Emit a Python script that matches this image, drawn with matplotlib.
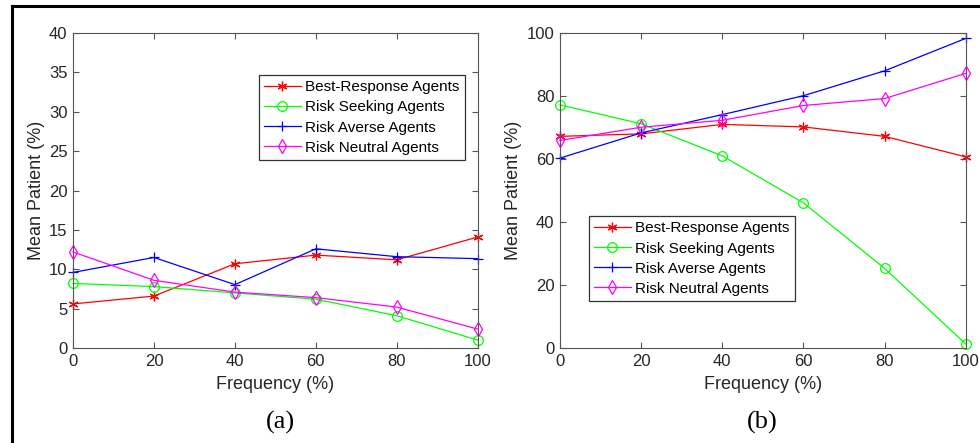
import matplotlib.pyplot as plt
from matplotlib.lines import Line2D

plt.rcParams['font.family'] = ['Liberation Sans', 'DejaVu Sans']

freq = [0, 20, 40, 60, 80, 100]

# (a) mean patient values
best_a = [5.6, 6.6, 10.7, 11.8, 11.2, 14.1]
seek_a = [8.2, 7.8, 7.0, 6.2, 4.1, 1.0]
averse_a = [9.6, 11.5, 8.05, 12.6, 11.6, 11.35]
neutral_a = [12.2, 8.6, 7.1, 6.4, 5.2, 2.4]

# (b) mean patient values
best_b = [67.2, 68.0, 71.0, 70.2, 67.2, 60.7]
seek_b = [77.2, 71.2, 61.0, 46.1, 25.3, 1.3]
averse_b = [60.3, 68.3, 74.1, 80.1, 88.0, 98.3]
neutral_b = [65.9, 70.1, 72.3, 77.0, 79.2, 87.2]

series_names = ['Best-Response Agents', 'Risk Seeking Agents',
                'Risk Averse Agents', 'Risk Neutral Agents']
colors = ['#ff0000', '#00ff00', '#0000ff', '#ff00ff']
markers = [(6, 2, 0), 'o', '+', 'd']
yticks_a = [0, 5, 10, 15, 20, 25, 30, 35, 40]
yticks_b = [0, 20, 40, 60, 80, 100]

fig = plt.figure(figsize=(9.8, 4.43), dpi=100)
ax_a = fig.add_axes([0.0745, 0.2144, 0.413, 0.711])
ax_b = fig.add_axes([0.5714, 0.2144, 0.414, 0.711])


def draw_panel(ax, data, yticks, legend_anchor):
    for vals, name, c, m in zip(data, series_names, colors, markers):
        mfc = 'none' if m in ('o', 'd') else c
        ax.plot(freq, vals, color=c, lw=0.9, marker=m, markersize=7,
                markerfacecolor=mfc, markeredgecolor=c, markeredgewidth=0.9,
                label=name, clip_on=False)
    ax.set_xlim(0, 100)
    ax.set_ylim(yticks[0], yticks[-1])
    ax.set_xticks(freq)
    ax.set_yticks(yticks)
    ax.tick_params(direction='in', top=True, right=True, length=4,
                   width=0.8, color='#555555', labelsize=12,
                   labelcolor='#262626', pad=4)
    for sp in ax.spines.values():
        sp.set_color('#555555')
        sp.set_linewidth(0.8)
    ax.set_xlabel('Frequency (%)', fontsize=13, color='#262626', labelpad=5)
    ax.set_ylabel('Mean Patient (%)', fontsize=13, color='#262626', labelpad=3)
    leg = ax.legend(loc='upper left', bbox_to_anchor=legend_anchor,
                    fontsize=11, fancybox=False, framealpha=1,
                    edgecolor='#333333', handlelength=2.4, handletextpad=0.3,
                    labelspacing=0.4, borderpad=0.35, borderaxespad=0)
    leg.get_frame().set_linewidth(0.9)


draw_panel(ax_a, [best_a, seek_a, averse_a, neutral_a], yticks_a, (0.459, 0.867))
draw_panel(ax_b, [best_b, seek_b, averse_b, neutral_b], yticks_b, (0.071, 0.419))

fig.text(0.286, 0.047, '(a)', family='Liberation Serif', fontsize=19,
         ha='center', va='center')
fig.text(0.778, 0.047, '(b)', family='Liberation Serif', fontsize=19,
         ha='center', va='center')

# outer frame lines (left and top)
fig.add_artist(Line2D([11.5 / 980, 11.5 / 980], [0, 1 - 5.5 / 443],
                      transform=fig.transFigure, color='black', lw=2.2))
fig.add_artist(Line2D([11.5 / 980, 1], [1 - 5.5 / 443, 1 - 5.5 / 443],
                      transform=fig.transFigure, color='black', lw=2.2))

fig.savefig('out.png', dpi=100)
plt.close(fig)
